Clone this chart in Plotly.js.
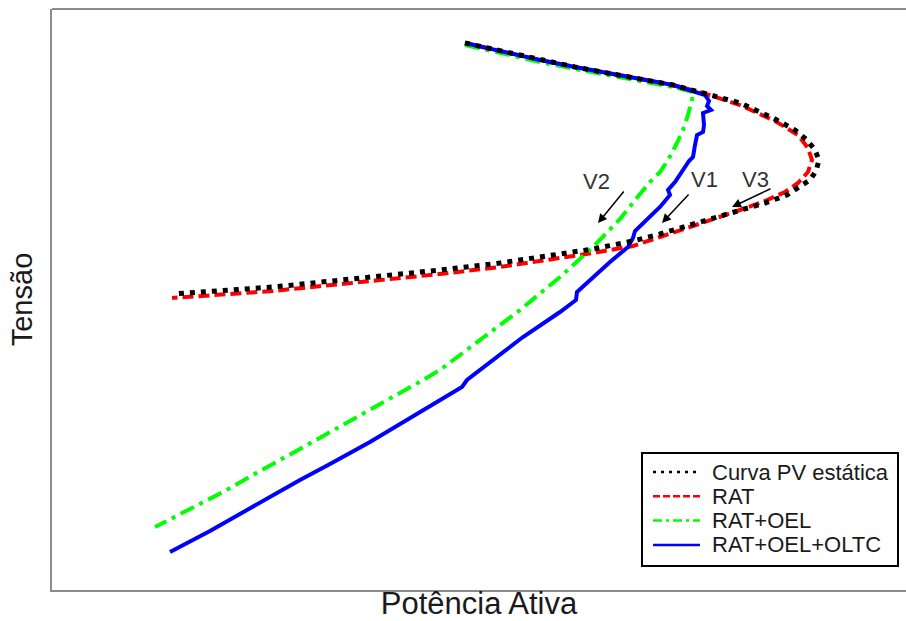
<!DOCTYPE html>
<html>
<head>
<meta charset="utf-8">
<script src="https://cdn.plot.ly/plotly-3.0.1.min.js"></script>
<style>html,body{margin:0;padding:0;background:#fff;}#chart{width:906px;height:621px;}</style>
</head>
<body>
<div id="chart"></div>
<script>
// Static PV curve (Curva PV estática)
const pvP = [465,500,540,575,607,640,673,703,740,773,795,807,815,819,816,810,798,787,765,740,715,690,660,633,593,560,540,500,440,400,350,307,273,230,173];
const pvV = [578,570,561,554,548,542,536,528,518,503,491,481,471,461,450,441,433,426,418,411,403,396,387,380,372,367,364,358,351,347,342,338,334,331,327];
// RAT
const ratP = [465,500,540,575,607,640,673,703,740,775,798,808,812,808,798,785,765,740,715,690,660,633,593,560,540,500,440,400,350,307,273,230,172];
const ratV = [578,570,561,554,548,542,536,528,516,500,486,473,461,449,438,429,420,411,402,394,384,375,368,363,360,354,347,343,338,334,330,327,323];
// RAT+OEL
const oelP = [465,500,540,575,607,640,673,693,692,688,683,676,668,660,650,640,620,593,575,560,520,480,440,423,400,360,330,300,260,223,190,155];
const oelV = [576,568,559,552,546,540,534,529,521,506,491,476,461,449,439,427,402,374,358,344,311,281,251,241,228,205,188,172,150,129,112,94];
// RAT+OEL+OLTC
const oltcP = [465,500,540,575,607,640,673,705,709,707,711,703,704,703,697,695,693,689,682,675,668,670,660,648,635,633,628,610,593,577,576,560,523,495,467,462,440,400,370,330,300,247,210,170];
const oltcV = [578,570,561,554,548,542,536,526,520,515,511,508,496,489,486,476,464,460,449,439,431,426,414,403,390,383,374,359,343,329,321,309,284,263,241,234,221,197,179,157,141,111,90,69];

const seriesNames = ['Curva PV estática','RAT','RAT+OEL','RAT+OEL+OLTC'];

// Arrow labels
const arrowLabels = ['V2','V1','V3'];
const arrowText = [[596,440],[704,442],[755,442]];
const arrowTail = [[625,431],[690,428],[772,433]];
const arrowHead = [[598,398],[662,398],[732,414]];

const styles = [
  {color:'#000000', dash:'5px,6px', lw:5, legDash:'3px,5px'},
  {color:'#ff0000', dash:'11px,5px', lw:4, legDash:'7px,3px'},
  {color:'#00ff00', dash:'15px,6px,4px,6px', lw:4, legDash:'9px,4px,3px,4px'},
  {color:'#0000ff', dash:'solid', lw:4, legDash:'solid'}
];
const seriesP = [pvP, ratP, oelP, oltcP];
const seriesV = [pvV, ratV, oelV, oltcV];
const drawOrder = [1, 2, 3, 0];

const traces = drawOrder.map(i => ({
  x: seriesP[i], y: seriesV[i], name: seriesNames[i], mode:'lines', showlegend:false,
  line:{color: styles[i].color, width: styles[i].lw, dash: styles[i].dash}
}));

// layout helpers: pixel -> paper
const L = 52, R = 906, T = 9, B = 590;
const px = v => (v - L) / (R - L);
const py = v => (B - v) / (B - T);

const annotations = [];
const shapes = [{type:'line', xref:'paper', yref:'paper', x0:0, x1:1, y0:1, y1:1,
    line:{color:'#8c8c8c', width:2}}];

for (let i = 0; i < arrowLabels.length; i++) {
  annotations.push({x: arrowText[i][0], y: arrowText[i][1], xref:'x', yref:'y', text: arrowLabels[i],
    showarrow:false, font:{family:'Liberation Sans, Arial, sans-serif', size:22, color:'#333333'}});
  annotations.push({x: arrowHead[i][0], y: arrowHead[i][1], ax: arrowTail[i][0], ay: arrowTail[i][1],
    xref:'x', yref:'y', axref:'x', ayref:'y', text:'', showarrow:true,
    arrowhead:2, arrowsize:1.2, arrowwidth:1.5, arrowcolor:'#000000'});
}

// legend box
shapes.push({type:'rect', xref:'paper', yref:'paper', x0:px(642), x1:px(898), y0:py(566), y1:py(453),
  fillcolor:'#ffffff', line:{color:'#000000', width:2}, layer:'above'});
for (let i = 0; i < seriesNames.length; i++) {
  const yc = 472 + i * 24.3;
  shapes.push({type:'line', xref:'paper', yref:'paper', x0:px(653), x1:px(700), y0:py(yc), y1:py(yc),
    line:{color: styles[i].color, width:2.5, dash: styles[i].legDash}, layer:'above'});
  annotations.push({xref:'paper', yref:'paper', x:px(710), y:py(yc), xanchor:'left', yanchor:'middle',
    text: seriesNames[i], showarrow:false,
    font:{family:'Liberation Sans, Arial, sans-serif', size:22, color:'#1a1a1a'}});
}

const layout = {
  width: 906, height: 621,
  margin: {l:52, r:0, t:9, b:31},
  paper_bgcolor:'#ffffff', plot_bgcolor:'#ffffff',
  font: {family:'Liberation Sans, Arial, sans-serif', color:'#1a1a1a'},
  showlegend: false,
  xaxis: {range:[52,906], showgrid:false, zeroline:false, showticklabels:false, ticks:'',
    showline:true, linecolor:'#8c8c8c', linewidth:2, fixedrange:true,
    title:{text:'Potência Ativa', font:{size:31, color:'#1a1a1a'}, standoff:4}},
  yaxis: {range:[31,612], showgrid:false, zeroline:false, showticklabels:false, ticks:'',
    showline:true, linecolor:'#8c8c8c', linewidth:2, fixedrange:true,
    title:{text:'Tensão', font:{size:29, color:'#1a1a1a'}, standoff:9}},
  shapes: shapes,
  annotations: annotations
};

Plotly.newPlot('chart', traces, layout, {displayModeBar:false, staticPlot:true});
</script>
</body>
</html>
